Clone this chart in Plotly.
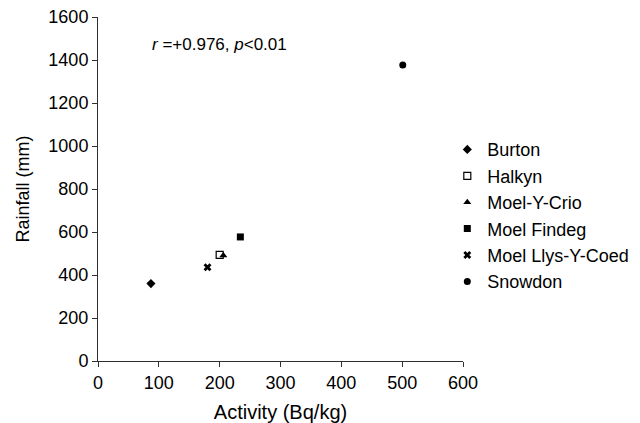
import plotly.graph_objects as go

sites = ["Burton", "Halkyn", "Moel-Y-Crio", "Moel Findeg", "Moel Llys-Y-Coed", "Snowdon"]
activity = [87, 200, 206, 234, 180, 501]
rainfall = [360, 494, 491, 577, 436, 1377]
symbols = ["diamond", "square-open", "triangle-up", "square", "x", "circle"]

fig = go.Figure()
for s, xv, yv, sym in zip(sites, activity, rainfall, symbols):
    fig.add_trace(go.Scatter(
        x=[xv], y=[yv], mode="markers", name=s,
        marker=dict(symbol=sym, size=7, color="black",
                    line=dict(color="black", width=1.2 if sym == "square-open" else 0)),
    ))

fig.add_annotation(
    text="<i>r</i> =+0.976, <i>p</i><0.01", xref="paper", yref="paper",
    x=(150 - 98) / 365.6, y=(361.5 - 45) / 344.5, xanchor="left", yanchor="middle",
    showarrow=False, font=dict(size=17, color="black"),
)

axis_common = dict(
    showgrid=False, zeroline=False, showline=True, linecolor="#303030", linewidth=1,
    ticks="outside", ticklen=5, tickcolor="#303030", tickwidth=1,
    tickfont=dict(size=18, color="black"), automargin=False,
    ticklabeloverflow="allow",
)
fig.update_xaxes(range=[0, 600], dtick=100,
                 title=dict(text="Activity (Bq/kg)", font=dict(size=20, color="black"), standoff=13),
                 **axis_common)
fig.update_yaxes(range=[0, 1600], dtick=200,
                 title=dict(text="Rainfall (mm)", font=dict(size=18, color="black"), standoff=14),
                 **axis_common)

# the page body adds an 8px offset, so the figure is sized to fill the rest of the window
fig.update_layout(
    width=632, height=415,
    margin=dict(l=89.7, r=176.7, t=9, b=61.5, pad=0, autoexpand=False),
    paper_bgcolor="white", plot_bgcolor="white",
    font=dict(family="Liberation Sans, Arial, sans-serif", color="black"),
    legend=dict(x=0.957, y=(361.5 - 216) / 344.5, xanchor="left", yanchor="middle",
                font=dict(size=18, color="black"), itemwidth=30, tracegroupgap=0),
)

fig.write_html("out.html")
